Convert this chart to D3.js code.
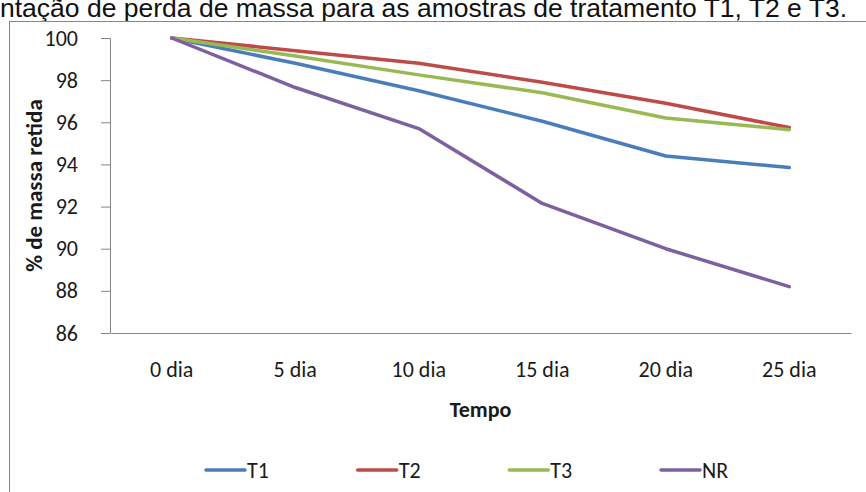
<!DOCTYPE html>
<html>
<head>
<meta charset="utf-8">
<script src="https://cdn.jsdelivr.net/npm/d3@7"></script>
<style>
  html, body { margin: 0; padding: 0; background: #fff; }
  svg { display: block; }
</style>
</head>
<body>
<svg id="chart" width="866" height="492"></svg>
<script>
// Mass retained (%) over storage time for each treatment
const categories = ["0 dia", "5 dia", "10 dia", "15 dia", "20 dia", "25 dia"];
const seriesNames = ["T1", "T2", "T3", "NR"];
const t1 = [100, 98.8, 97.5, 96.05, 94.4, 93.85];
const t2 = [100, 99.4, 98.8, 97.9, 96.9, 95.75];
const t3 = [100, 99.15, 98.25, 97.4, 96.2, 95.65];
const nr = [100, 97.65, 95.7, 92.15, 90.0, 88.2];
const yTicks = [86, 88, 90, 92, 94, 96, 98, 100];
const colors = ["#4A7EBB", "#BE4B48", "#98B954", "#7D60A0"];

const titleText = "ntação de perda de massa para as amostras de tratamento T1, T2 e T3.";
const yTitle = "% de massa retida";
const xTitle = "Tempo";

const series = [t1, t2, t3, nr].map((values, i) => ({ name: seriesNames[i], values, color: colors[i] }));

const svg = d3.select("#chart");
const font = "Carlito, Lato, 'Open Sans', sans-serif";
const axisColor = "#868686";
const textColor = "#1a1a1a";
const fontSize = 22;

const plot = { left: 110, right: 851, top: 38, bottom: 333 };

const x = d3.scaleBand().domain(categories).range([plot.left, plot.right]);
const y = d3.scaleLinear().domain([86, 100]).range([plot.bottom, plot.top]);

// Caption above the framed chart
svg.append("text")
  .attr("x", 0).attr("y", 17)
  .attr("font-family", "'Liberation Sans', Arial, sans-serif")
  .attr("font-size", 26.5)
  .attr("fill", "#111")
  .text(titleText);

// Chart frame
svg.append("rect")
  .attr("x", 9.5).attr("y", 21.5)
  .attr("width", 900).attr("height", 520)
  .attr("fill", "none")
  .attr("stroke", axisColor)
  .attr("stroke-width", 1);

// Y axis
const yAxis = svg.append("g")
  .attr("transform", `translate(${plot.left},0)`)
  .call(d3.axisLeft(y).tickValues(yTicks).tickSize(9).tickPadding(23).tickFormat(d3.format("d")));
yAxis.select(".domain").attr("stroke", axisColor).attr("d", `M-9,${plot.top + 0.5}H0.5V${plot.bottom}`);
yAxis.selectAll(".tick line").attr("stroke", axisColor);
yAxis.selectAll(".tick text")
  .attr("font-family", font).attr("font-size", fontSize).attr("fill", textColor);

// X axis
const xAxis = svg.append("g")
  .attr("transform", `translate(0,${plot.bottom})`)
  .call(d3.axisBottom(x).tickSize(0).tickPadding(28));
xAxis.select(".domain").attr("stroke", axisColor);
xAxis.selectAll(".tick text")
  .attr("font-family", font).attr("font-size", fontSize).attr("fill", textColor);

// Axis titles
svg.append("text")
  .attr("transform", `translate(42,${(plot.top + plot.bottom) / 2}) rotate(-90)`)
  .attr("text-anchor", "middle")
  .attr("font-family", font).attr("font-size", 23).attr("font-weight", "bold")
  .attr("fill", textColor)
  .text(yTitle);

svg.append("text")
  .attr("x", (plot.left + plot.right) / 2).attr("y", 417)
  .attr("text-anchor", "middle")
  .attr("font-family", font).attr("font-size", fontSize).attr("font-weight", "bold")
  .attr("fill", textColor)
  .text(xTitle);

// Series lines
const line = d3.line()
  .x((d, i) => x(categories[i]) + x.bandwidth() / 2)
  .y(d => y(d));

svg.append("g").selectAll("path")
  .data(series)
  .join("path")
  .attr("d", d => line(d.values))
  .attr("fill", "none")
  .attr("stroke", d => d.color)
  .attr("stroke-width", 3.5)
  .attr("stroke-linejoin", "round")
  .attr("stroke-linecap", "round");

// Legend
const legendX = d3.scalePoint().domain(seriesNames).range([206, 661]);
const legend = svg.append("g").selectAll("g")
  .data(series)
  .join("g")
  .attr("transform", d => `translate(${legendX(d.name)},470)`);
legend.append("line")
  .attr("x1", 0).attr("x2", 39).attr("y1", 0).attr("y2", 0)
  .attr("stroke", d => d.color).attr("stroke-width", 3.5).attr("stroke-linecap", "round");
legend.append("text")
  .attr("x", 41).attr("y", 8)
  .attr("font-family", font).attr("font-size", fontSize).attr("fill", textColor)
  .text(d => d.name);
</script>
</body>
</html>
